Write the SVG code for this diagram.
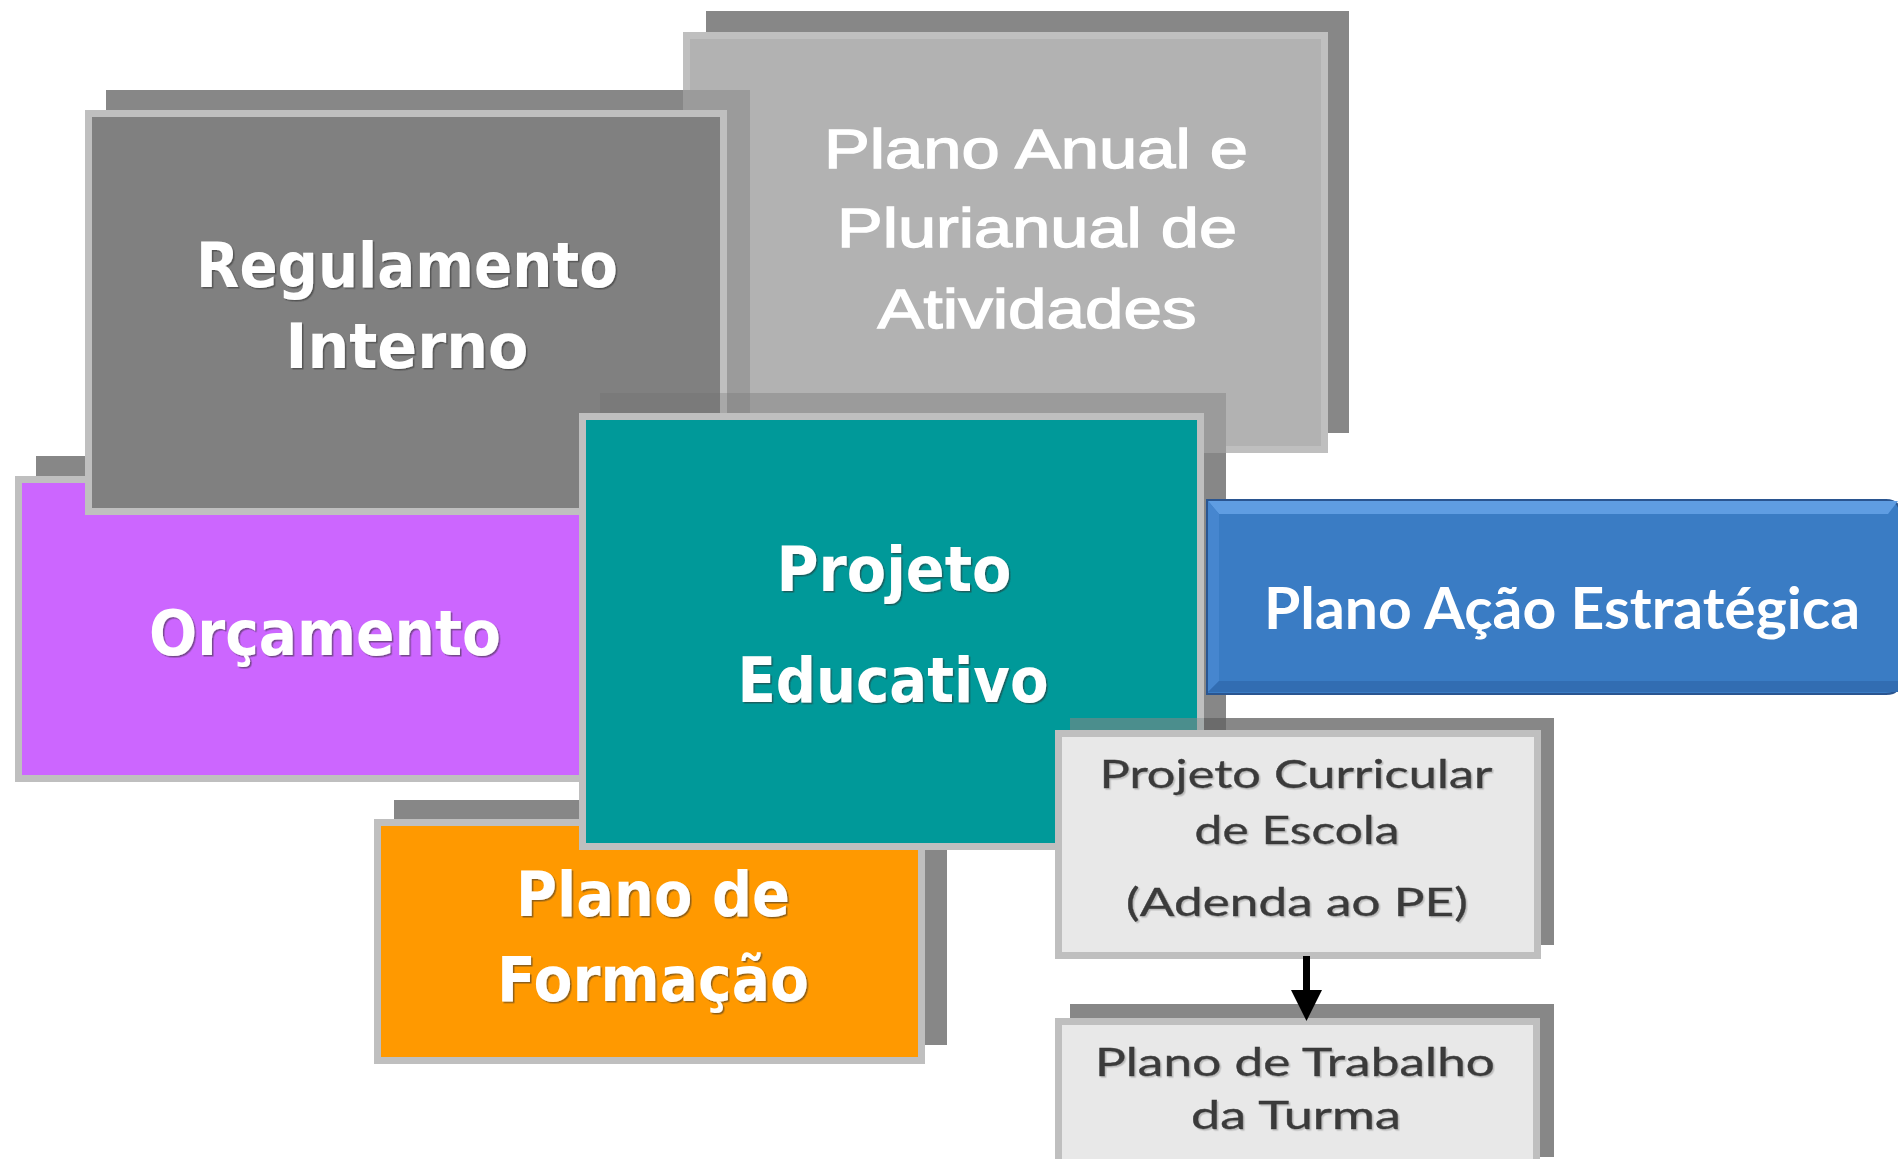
<svg xmlns="http://www.w3.org/2000/svg" width="1898" height="1159" viewBox="0 0 1898 1159">
<defs>
<style>
.sh{fill:#878787}
.box{stroke:#bfbfbf;stroke-width:7}
.wt{font-family:"DejaVu Sans","Liberation Sans",sans-serif;font-weight:bold;font-size:63px;fill:#ffffff;text-anchor:middle;filter:url(#tsw)}
.pa{font-family:"Liberation Sans",Arial,sans-serif;font-size:56px;fill:#ffffff;stroke:#ffffff;stroke-width:1.3;text-anchor:middle}
.pae{font-family:Lato,"Open Sans","Liberation Sans",sans-serif;font-weight:bold;font-size:57px;fill:#ffffff;text-anchor:middle}
.dk{font-family:Lato,"Open Sans","Liberation Sans",sans-serif;font-size:38px;fill:#3a3a3a;stroke:#3a3a3a;stroke-width:0.4;text-anchor:middle;filter:url(#tsd)}
</style>
<filter id="tsw" x="-5%" y="-20%" width="110%" height="140%">
<feDropShadow dx="1.5" dy="1.5" stdDeviation="0.7" flood-color="#303030" flood-opacity="0.55"/>
</filter>
<filter id="tsd" x="-5%" y="-20%" width="110%" height="140%">
<feDropShadow dx="1.5" dy="1.5" stdDeviation="0.7" flood-color="#b0b0b0" flood-opacity="0.8"/>
</filter>
</defs>
<rect width="1898" height="1159" fill="#ffffff"/>

<g id="plano-anual">
<rect class="sh" x="706" y="11" width="643" height="422"/>
<rect class="box" x="686.5" y="35.5" width="638" height="414" fill="#b2b2b2"/>
<text class="pa" x="1036" y="168" textLength="424" lengthAdjust="spacingAndGlyphs">Plano Anual e</text>
<text class="pa" x="1037" y="247" textLength="400" lengthAdjust="spacingAndGlyphs">Plurianual de</text>
<text class="pa" x="1037" y="328" textLength="319" lengthAdjust="spacingAndGlyphs">Atividades</text>
</g>

<g id="orcamento">
<rect class="sh" x="36" y="456" width="620" height="305"/>
<rect class="box" x="18.5" y="479.5" width="613" height="299" fill="#cc66ff"/>
<text class="wt" x="325" y="655" textLength="352" lengthAdjust="spacingAndGlyphs">Orçamento</text>
</g>

<g id="regulamento">
<rect class="sh" x="106" y="90" width="644" height="405"/>
<rect x="683" y="90" width="67" height="363" fill="#9b9b9b"/>
<rect class="box" x="88.5" y="113.5" width="635" height="398" fill="#808080"/>
<text class="wt" x="407" y="287" textLength="422" lengthAdjust="spacingAndGlyphs">Regulamento</text>
<text class="wt" x="407" y="368" textLength="243" lengthAdjust="spacingAndGlyphs">Interno</text>
</g>

<g id="plano-formacao">
<rect class="sh" x="394" y="800" width="553" height="245"/>
<rect class="box" x="377.5" y="822.5" width="544" height="238" fill="#ff9900"/>
<text class="wt" x="653" y="916" textLength="274" lengthAdjust="spacingAndGlyphs">Plano de</text>
<text class="wt" x="653" y="1001" textLength="312" lengthAdjust="spacingAndGlyphs">Formação</text>
</g>

<g id="projeto-educativo">
<rect class="sh" x="600" y="393" width="626" height="436"/>
<rect x="600" y="393" width="120" height="20" fill="#7a7a7a"/>
<rect x="720" y="393" width="7" height="20" fill="#a8a8a8"/>
<rect x="727" y="393" width="23" height="60" fill="#8e8e8e"/>
<rect x="750" y="393" width="476" height="60" fill="#9b9b9b"/>
<rect class="box" x="582.5" y="416.5" width="618" height="430" fill="#009999"/>
<text class="wt" x="894" y="591" textLength="235" lengthAdjust="spacingAndGlyphs">Projeto</text>
<text class="wt" x="893" y="702" textLength="311" lengthAdjust="spacingAndGlyphs">Educativo</text>
</g>

<g id="plano-acao">
<path d="M1207,500 H1886 Q1900,500 1900,514 V680 Q1900,694 1886,694 H1207 Z" fill="#3a7cc4" stroke="#2a5590" stroke-width="2"/>
<polygon points="1208,501 1898,501 1888,514 1219,514" fill="#5f9de2"/>
<polygon points="1208,501 1219,514 1219,681 1208,692" fill="#4686cf"/>
<polygon points="1208,692 1219,681 1900,681 1900,692" fill="#326db2"/>
<text class="pae" x="1562" y="629" textLength="596" lengthAdjust="spacingAndGlyphs">Plano Ação Estratégica</text>
</g>

<g id="projeto-curricular">
<rect class="sh" x="1070" y="718" width="484" height="227"/>
<rect x="1070" y="718" width="127" height="12" fill="#4b8e8d"/>
<rect x="1197" y="718" width="7" height="12" fill="#a3a9a9"/>
<rect x="1204" y="718" width="22" height="12" fill="#6b6b6b"/>
<rect class="box" x="1058.5" y="733.5" width="479" height="222" fill="#e8e8e8"/>
<text class="dk" x="1296" y="788" textLength="393" lengthAdjust="spacingAndGlyphs">Projeto Curricular</text>
<text class="dk" x="1297" y="844" textLength="205" lengthAdjust="spacingAndGlyphs">de Escola</text>
<text class="dk" x="1297" y="916" textLength="342" lengthAdjust="spacingAndGlyphs">(Adenda ao PE)</text>
</g>

<g id="plano-trabalho">
<rect class="sh" x="1070" y="1004" width="484" height="153"/>
<rect class="box" x="1058.5" y="1021.5" width="478" height="160" fill="#e8e8e8"/>
<text class="dk" x="1295" y="1076" textLength="400" lengthAdjust="spacingAndGlyphs">Plano de Trabalho</text>
<text class="dk" x="1296" y="1129" textLength="210" lengthAdjust="spacingAndGlyphs">da Turma</text>
</g>

<g id="connectors">
<line x1="1306.5" y1="956" x2="1306.5" y2="994" stroke="#000000" stroke-width="7"/>
<polygon points="1291,990 1322,990 1306.5,1021" fill="#000000"/>
</g>
</svg>
